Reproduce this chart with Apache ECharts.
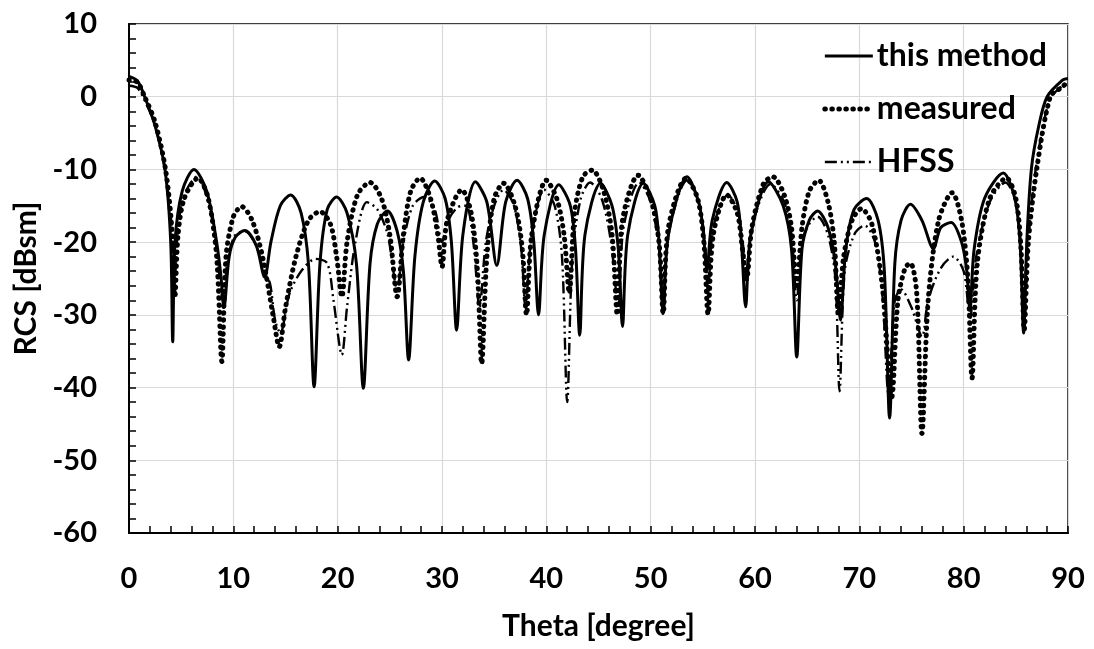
<!DOCTYPE html>
<html>
<head>
<meta charset="utf-8">
<script src="https://cdn.jsdelivr.net/npm/echarts@6/dist/echarts.min.js"></script>
<style>
html,body{margin:0;padding:0;background:#fff;}
#chart{width:1094px;height:649px;}
</style>
</head>
<body>
<div id="chart"></div>
<script>
// ---- data ----
const xTicks = [0, 10, 20, 30, 40, 50, 60, 70, 80, 90];
const yTicks = [-60, -50, -40, -30, -20, -10, 0, 10];
const seriesNames = ['this method', 'measured', 'HFSS'];

const methodTheta = [0, 0.8, 1.5, 2.5, 3.45, 4.0, 4.19, 4.41, 5.1, 6.23, 7.45, 8.4, 8.8, 9.1, 9.6, 10.2, 11.1, 12.2, 13.0, 13.6, 14.5, 15.5, 16.5, 17.2, 17.74, 18.3, 19.0, 19.9, 20.9, 21.8, 22.46, 23.1, 23.8, 24.77, 25.7, 26.3, 26.8, 27.4, 28.2, 29.3, 30.3, 30.9, 31.4, 32.0, 33.2, 34.3, 35.25, 36.1, 37.2, 38.2, 38.8, 39.25, 39.8, 41.2, 42.3, 42.8, 43.2, 43.7, 45.2, 46.3, 46.9, 47.3, 47.8, 49.3, 50.4, 50.8, 51.2, 51.7, 53.5, 54.6, 55.0, 55.4, 55.9, 57.3, 58.3, 58.7, 59.1, 59.6, 61.3, 62.7, 63.5, 64.0, 64.5, 65.2, 66.0, 67.0, 67.7, 68.2, 68.7, 69.5, 70.7, 71.8, 72.4, 72.9, 73.4, 74.0, 74.9, 76.0, 77.1, 77.8, 78.8, 79.8, 80.3, 80.6, 81.0, 82.0, 83.8, 84.9, 85.4, 85.75, 86.06, 86.5, 87.2, 88.0, 89.5, 90];
const methodRcs   = [2.8, 2.2, 0, -4, -10, -20, -33.7, -20, -13, -10.0, -13, -20, -24.5, -29, -22, -19.3, -18.4, -20.5, -24.8, -20, -15, -13.5, -16, -23, -39.9, -23, -15.5, -13.8, -16, -23, -40.1, -23, -17.5, -15.7, -18.5, -24, -36.2, -22, -14.5, -11.6, -14, -20, -32.1, -19, -11.7, -14.5, -23.2, -14.5, -11.5, -14, -20, -30.0, -19, -12.1, -15, -21, -32.8, -19, -11.9, -15, -21, -31.6, -19, -11.9, -15, -20, -29.8, -19, -11.0, -14.5, -18, -23.8, -17, -11.8, -14.5, -20, -28.9, -19, -11.7, -15, -21, -35.8, -21, -17, -15.7, -18, -23, -30.7, -21, -15.5, -14.0, -17, -24, -44.2, -23, -17, -14.8, -17, -20.9, -18, -17.3, -20, -24, -29.3, -21, -14, -10.5, -14, -20, -32.5, -19.7, -9.8, -4, 0, 2.3, 2.5];

const measuredTheta = [0, 0.8, 1.5, 2.5, 3.5, 4.1, 4.4, 4.7, 5.3, 6.6, 7.6, 8.4, 8.9, 9.3, 10.0, 10.8, 11.8, 12.8, 13.8, 14.4, 15.0, 16.0, 17.2, 18.3, 19.3, 19.9, 20.4, 20.9, 21.9, 23.1, 24.2, 25.0, 25.7, 26.3, 27.0, 27.9, 28.9, 29.6, 30.0, 30.5, 31.9, 32.8, 33.4, 33.8, 34.3, 35.0, 35.9, 37.0, 37.7, 38.1, 38.6, 40.0, 41.0, 41.7, 42.2, 42.7, 43.5, 44.4, 45.5, 46.3, 46.8, 47.3, 48.8, 50.0, 50.8, 51.2, 51.7, 53.4, 54.5, 55.1, 55.5, 56.0, 57.3, 58.3, 58.8, 59.2, 59.7, 60.8, 61.7, 62.8, 63.5, 64.0, 64.5, 65.2, 66.1, 67.0, 67.6, 68.0, 68.5, 69.3, 70.2, 71.2, 72.2, 73.1, 73.7, 74.4, 74.9, 75.5, 76.0, 76.6, 77.6, 78.9, 79.8, 80.4, 80.8, 81.3, 82.5, 84.1, 85.0, 85.5, 85.8, 86.2, 87.0, 88.3, 89.3, 90];
const measuredRcs   = [2.3, 2.0, 0, -3.5, -10, -18, -27.5, -19, -14, -11.2, -14, -22, -36.4, -22, -16.5, -15.1, -17, -22, -30, -34.4, -29, -22, -17, -15.8, -17.5, -22, -27.5, -20, -13.5, -11.8, -14, -19, -27.5, -19, -13, -11.2, -14, -19, -23.4, -17, -12.8, -16, -24, -36.7, -22, -14, -11.9, -15, -21, -30.0, -19, -11.5, -14, -19, -27, -16, -11, -10.1, -13, -19, -30, -17, -10.8, -14, -20, -29.8, -18, -11.2, -14, -20, -29.9, -19, -13.5, -16, -21, -25, -18, -12, -11.0, -13.5, -18, -26.4, -18, -13, -11.5, -14.5, -20, -30, -22, -17, -15.4, -17.5, -26, -41.3, -28, -23.5, -22.9, -27, -46.3, -28, -17, -13.2, -17, -25, -38.7, -23, -14, -11.2, -14, -21, -32.1, -20, -10, 0, 1.2, 2.0];

const hfssTheta = [0, 0.8, 1.5, 2.5, 3.5, 4.1, 4.35, 4.7, 5.3, 6.5, 7.6, 8.4, 9.0, 9.5, 10.2, 11.1, 12.2, 12.9, 13.5, 14.0, 14.5, 15.4, 16.6, 17.9, 19.0, 19.6, 20.4, 20.9, 21.7, 22.8, 23.8, 24.8, 25.7, 26.3, 27.2, 28.3, 29.3, 30.0, 30.6, 31.5, 32.3, 33.0, 33.6, 34.2, 35.0, 35.9, 36.9, 37.6, 38.0, 38.6, 39.8, 40.8, 41.5, 42.0, 42.5, 43.3, 44.2, 45.3, 46.2, 46.9, 47.4, 48.9, 50.0, 50.8, 51.2, 51.7, 53.5, 54.6, 55.2, 55.5, 56.0, 57.4, 58.4, 58.9, 59.2, 59.7, 61.5, 62.8, 63.5, 64.0, 64.5, 65.2, 66.0, 67.0, 67.7, 68.1, 68.6, 69.5, 70.5, 71.5, 72.2, 72.8, 73.4, 74.0, 75.0, 76.0, 76.6, 77.8, 79.0, 80.0, 80.6, 81.2, 82.5, 84.0, 85.0, 85.5, 85.8, 86.2, 86.9, 88.2, 89.3, 90];
const hfssRcs   = [1.5, 1.2, -0.5, -4, -10.5, -18, -26, -18, -13.5, -11, -14.5, -21, -28, -22, -19, -18.5, -20.5, -24, -25.6, -30.7, -32.5, -27, -23.8, -22.3, -22.9, -28, -35.5, -28.9, -20, -14.5, -15.5, -19, -26.5, -20, -15, -13.8, -15.5, -20, -17, -15.2, -15, -20, -29, -20, -15, -12.8, -15, -21, -29, -19, -12.8, -15, -22, -42, -22, -14, -11.8, -14, -20, -29, -18, -11.8, -14.5, -21, -30, -19, -11.5, -14.5, -20, -27, -18, -13.5, -16, -21, -26, -18, -12, -14.5, -19, -28, -20, -17.5, -16.5, -19, -25, -40.5, -24, -19, -17.7, -20, -27, -41, -28, -26.5, -29, -33, -28, -23.6, -22, -24, -30.5, -22, -14.5, -11.8, -14.5, -21, -32, -20, -10, -0.5, 1.3, 1.8];

function pairs(xs, ys){ return xs.map((x, i) => [x, ys[i]]); }

const FONT = 'Lato, "Open Sans", sans-serif';
const solidStyle  = { color: '#000', width: 3, type: 'solid' };
const dottedStyle = { color: '#000', width: 5, type: [0.5, 6.5], cap: 'round' };
const dashDotStyle = { color: '#000', width: 2.4, type: [12, 4, 2, 4, 2, 4] };

const chart = echarts.init(document.getElementById('chart'));
chart.setOption({
  backgroundColor: '#ffffff',
  animation: false,
  grid: { left: 129, right: 26, top: 24, bottom: 116, show: true, borderColor: '#000', borderWidth: 1.5 },
  legend: {
    orient: 'vertical', right: 42, top: 35, itemGap: 21,
    itemWidth: 48, itemHeight: 14,
    itemStyle: { opacity: 0 },
    textStyle: { fontFamily: FONT, fontWeight: 'bold', fontSize: 32, color: '#000', padding: [0, 0, 0, -1] },
    data: [
      { name: seriesNames[0], lineStyle: solidStyle },
      { name: seriesNames[1], lineStyle: dottedStyle },
      { name: seriesNames[2], lineStyle: dashDotStyle }
    ]
  },
  xAxis: {
    type: 'value', min: xTicks[0], max: xTicks[xTicks.length - 1], interval: 10,
    name: 'Theta [degree]', nameLocation: 'middle', nameGap: 78,
    nameTextStyle: { fontFamily: FONT, fontWeight: 'bold', fontSize: 30, color: '#000' },
    axisLine: { onZero: false, lineStyle: { color: '#000', width: 2 } },
    axisTick: { inside: true, length: 7, lineStyle: { color: '#000', width: 1.5 } },
    minorTick: { show: true, splitNumber: 5, length: 7, lineStyle: { color: '#000', width: 1.5 } },
    axisLabel: { fontFamily: FONT, fontWeight: 'bold', fontSize: 29, color: '#000', margin: 31 },
    splitLine: { show: true, lineStyle: { color: '#d9d9d9', width: 1.2 } }
  },
  yAxis: {
    type: 'value', min: yTicks[0], max: yTicks[yTicks.length - 1], interval: 10,
    name: 'RCS [dBsm]', nameLocation: 'middle', nameGap: 82,
    nameTextStyle: { fontFamily: FONT, fontWeight: 'bold', fontSize: 30, color: '#000' },
    axisLine: { onZero: false, lineStyle: { color: '#000', width: 2 } },
    axisTick: { inside: true, length: 7, lineStyle: { color: '#000', width: 1.5 } },
    minorTick: { show: true, splitNumber: 5, length: 7, lineStyle: { color: '#000', width: 1.5 } },
    axisLabel: { fontFamily: FONT, fontWeight: 'bold', fontSize: 29, color: '#000', margin: 32 },
    splitLine: { show: true, lineStyle: { color: '#d9d9d9', width: 1.2 } }
  },
  series: [
    { name: seriesNames[2], type: 'line', data: pairs(hfssTheta, hfssRcs), symbol: 'none', smooth: 0.3,
      lineStyle: dashDotStyle, itemStyle: { color: '#000' } },
    { name: seriesNames[1], type: 'line', data: pairs(measuredTheta, measuredRcs), symbol: 'none', smooth: 0.3,
      lineStyle: dottedStyle, itemStyle: { color: '#000' } },
    { name: seriesNames[0], type: 'line', data: pairs(methodTheta, methodRcs), symbol: 'none', smooth: 0.3,
      lineStyle: solidStyle, itemStyle: { color: '#000' } }
  ]
});
</script>
</body>
</html>
